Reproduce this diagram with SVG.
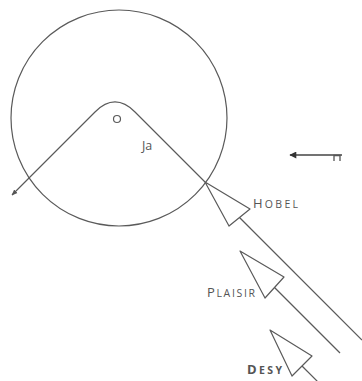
<svg xmlns="http://www.w3.org/2000/svg" width="362" height="381" viewBox="0 0 362 381">
<style>
.ln{fill:none;stroke:#5a5a5a;stroke-width:1.2;stroke-linejoin:round}
.lbl{font-family:"Open Sans","Liberation Sans",sans-serif;fill:#555}
</style>
<defs>
<marker id="ah" viewBox="0 0 10 10" refX="9" refY="5" markerWidth="6" markerHeight="6" orient="auto" markerUnits="userSpaceOnUse">
<path d="M0,1 L10,5 L0,9 Z" fill="#555"/>
</marker>
<marker id="ah2" viewBox="0 0 10 10" refX="9" refY="5" markerWidth="8" markerHeight="7" orient="auto" markerUnits="userSpaceOnUse">
<path d="M0,0 L10,5 L0,10 Z" fill="#333"/>
</marker>
</defs>
<rect width="362" height="381" fill="#fff"/>
<g id="circle">
<circle cx="119" cy="118" r="108" class="ln"/>
<circle cx="117" cy="119" r="3.5" class="ln"/>
<text class="lbl" x="142" y="150" font-size="12.5">Ja</text>
</g>
<g id="connectors">
<path class="ln" d="M205,182 L135,112 Q115,92 95,112 L12,195" marker-end="url(#ah)"/>
<line class="ln" x1="239.5" y1="217.5" x2="362" y2="340"/>
<line class="ln" x1="274.5" y1="287.5" x2="340" y2="353"/>
<line class="ln" x1="302" y1="366" x2="318" y2="382"/>
</g>
<g id="hobel">
<polygon class="ln" points="205,182 250,209 229,226"/>
<text class="lbl" x="253" y="208" textLength="45" lengthAdjust="spacing"><tspan font-size="13">H</tspan><tspan font-size="10.5">OBEL</tspan></text>
</g>
<g id="plaisir">
<polygon class="ln" points="240,251 284,277 265,298"/>
<text class="lbl" x="207" y="297" textLength="48" lengthAdjust="spacing"><tspan font-size="13">P</tspan><tspan font-size="10.5">LAISIR</tspan></text>
</g>
<g id="desy">
<polygon class="ln" points="270,330 312,356 292,376" stroke="#444"/>
<text class="lbl" x="247" y="374" textLength="35" lengthAdjust="spacing" font-weight="bold" fill="#444"><tspan font-size="13">D</tspan><tspan font-size="10.5">ESY</tspan></text>
</g>
<g id="north">
<line x1="342" y1="155" x2="290" y2="155" stroke="#444" stroke-width="1.6" marker-end="url(#ah2)"/>
<path d="M334,161 V155.5 H340 V161" fill="none" stroke="#555" stroke-width="1.3"/>
</g>
</svg>
